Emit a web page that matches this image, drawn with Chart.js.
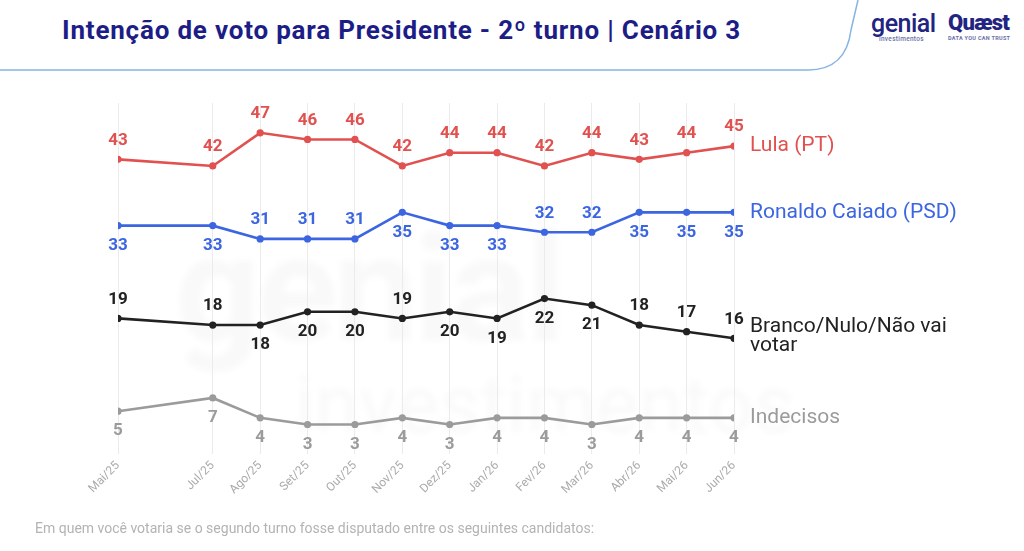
<!DOCTYPE html>
<html lang="pt-BR">
<head>
<meta charset="utf-8">
<script src="https://cdn.jsdelivr.net/npm/chart.js@4.4.1/dist/chart.umd.min.js"></script>
<style>
  html, body { margin: 0; padding: 0; background: #fff; }
  body { width: 1024px; height: 551px; position: relative; overflow: hidden; font-family: Roboto, "Open Sans", sans-serif; }
  #titulo { position: absolute; left: 62px; top: 15px; font-size: 26px; font-weight: 700; color: #1c1d86; white-space: nowrap; letter-spacing: 0.8px; }
  #rodape { position: absolute; left: 35px; top: 520px; font-size: 14px; color: #b3b3b3; white-space: nowrap; }
  #moldura { position: absolute; left: 0; top: 0; }
  #marca { position: absolute; left: 175px; top: 215px; color: rgba(0,0,0,0.022); font-weight: 700; line-height: 1; white-space: nowrap; filter: blur(3px); }
  #marca .a { font-size: 150px; letter-spacing: -4px; }
  #marca .b { font-size: 80px; font-weight: 400; margin-left: 120px; }
  .logo { position: absolute; color: #1f2580; white-space: nowrap; }
  .logo small { display: block; font-size: 6.5px; letter-spacing: 0.3px; color: #6a6fa8; }
  #wrap { position: absolute; left: 0; top: 0; width: 1024px; height: 551px; }
</style>
</head>
<body>
<svg id="moldura" width="1024" height="551">
  <path d="M0,70 L808,70 Q846,70 851,30 L858,0" fill="none" stroke="#86b4e4" stroke-width="1.5"/>
</svg>
<div id="marca"><div class="a">genial</div><div class="b">investimentos</div></div>
<div id="titulo">Intenção de voto para Presidente - 2º turno | Cenário 3</div>
<div class="logo" style="left:871px; top:9px; font-size:25px; font-weight:500; letter-spacing:-0.5px;">genial<small style="margin-left:8px; margin-top:-3px;">investimentos</small></div>
<div class="logo" style="left:948px; top:10px; font-size:22px; font-weight:900; letter-spacing:-0.8px;">Quæst<small style="font-size:5.5px; font-weight:700; margin-top:0px;">DATA YOU CAN TRUST</small></div>
<div id="wrap"><canvas id="grafico"></canvas></div>
<div id="rodape">Em quem você votaria se o segundo turno fosse disputado entre os seguintes candidatos:</div>

<script>
/* rodadas da pesquisa (mês contado a partir de mai/25) */
const rotulos = ['Mai/25', 'Jul/25', 'Ago/25', 'Set/25', 'Out/25', 'Nov/25', 'Dez/25', 'Jan/26', 'Fev/26', 'Mar/26', 'Abr/26', 'Mai/26', 'Jun/26'];
const meses   = [0, 2, 3, 4, 5, 6, 7, 8, 9, 10, 11, 12, 13];

/* intenção de voto, % */
const lula    = [43, 42, 47, 46, 46, 42, 44, 44, 42, 44, 43, 44, 45];
const caiado  = [33, 33, 31, 31, 31, 35, 33, 33, 32, 32, 35, 35, 35];
const branco  = [19, 18, 18, 20, 20, 19, 20, 19, 22, 21, 18, 17, 16];
const indecisos = [5, 7, 4, 3, 3, 4, 3, 4, 4, 3, 4, 4, 4];

const nomes = ['Lula (PT)', 'Ronaldo Caiado (PSD)', 'Branco/Nulo/Não vai\nvotar', 'Indecisos'];

/* posição do rótulo de cada ponto: a = acima, b = abaixo */
const posicoes = [
  'aaaaaaaaaaaaa',
  'bbaaabbbaabbb',
  'aabbbabbbbaaa',
  'bbbbbbbbbbbbb'
];

const cores = ['#e0514f', '#3c65e2', '#222222', '#9b9b9b'];
const fonte = 'Roboto, "Open Sans", sans-serif';

const serie = (dados, i) => ({
  data: dados.map((v, k) => ({ x: meses[k], y: v })),
  borderColor: cores[i],
  backgroundColor: cores[i],
  borderWidth: 2.6,
  pointRadius: 3.6,
  pointBorderWidth: 0,
  tension: 0
});

const rotulosPlugin = {
  id: 'rotulos',
  afterDatasetsDraw(chart) {
    const ctx = chart.ctx;
    ctx.save();
    chart.data.datasets.forEach((ds, i) => {
      const pts = chart.getDatasetMeta(i).data;
      ctx.fillStyle = cores[i];
      ctx.font = `700 17px ${fonte}`;
      ctx.textAlign = 'center';
      ctx.textBaseline = 'middle';
      pts.forEach((p, k) => {
        const dy = posicoes[i][k] === 'a' ? -19 : 20;
        ctx.fillText(String(ds.data[k].y), p.x, p.y + dy);
      });
      // nome da série ao fim da linha
      const ult = pts[pts.length - 1];
      const linhas = nomes[i].split('\n');
      ctx.font = `400 21px ${fonte}`;
      ctx.textAlign = 'left';
      const y0 = ult.y - (linhas.length - 1) * 12;
      linhas.forEach((t, j) => ctx.fillText(t, ult.x + 16, y0 + j * 19));
    });
    ctx.restore();
  }
};

new Chart(document.getElementById('grafico'), {
  type: 'line',
  data: {
    datasets: [serie(lula, 0), serie(caiado, 1), serie(branco, 2), serie(indecisos, 3)]
  },
  options: {
    responsive: true,
    maintainAspectRatio: false,
    animation: false,
    layout: { padding: { left: 118, right: 290, top: 103, bottom: 49 } },
    plugins: { legend: { display: false }, tooltip: { enabled: false } },
    scales: {
      x: {
        type: 'linear',
        min: 0,
        max: 13,
        afterBuildTicks: (axis) => { axis.ticks = meses.map(v => ({ value: v })); },
        grid: { color: '#ebebeb', lineWidth: 1, drawTicks: false },
        border: { display: false },
        ticks: {
          color: '#ababab',
          font: { family: fonte, size: 12 },
          minRotation: 45,
          maxRotation: 45,
          padding: 5,
          autoSkip: false,
          callback: (v, idx) => rotulos[idx]
        }
      },
      y: {
        display: false,
        min: -1.4,
        max: 51.5
      }
    }
  },
  plugins: [rotulosPlugin]
});
</script>
</body>
</html>
